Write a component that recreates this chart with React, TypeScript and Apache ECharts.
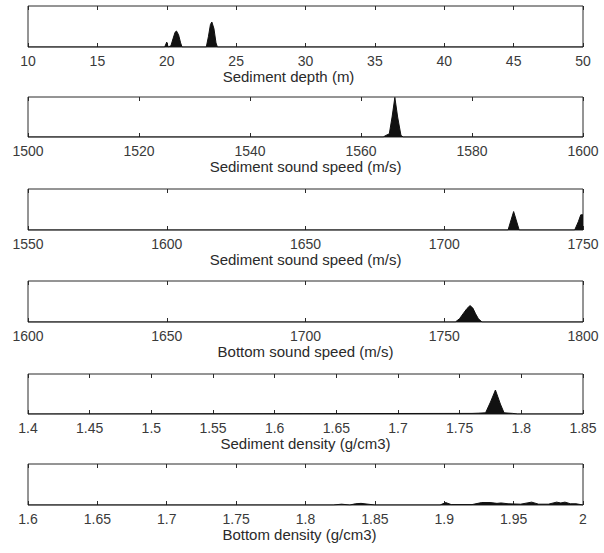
import React, { useEffect, useRef } from "react";
import * as echarts from "echarts";

// Panel 1: Sediment depth (m)
const depthX = [10, 19.85, 20.0, 20.1, 20.3, 20.45, 20.6, 20.7, 20.85, 21.0, 21.1, 22.85, 23.0, 23.15, 23.25, 23.4, 23.55, 23.65, 50];
const depthY = [0, 0, 0.12, 0, 0.03, 0.2, 0.36, 0.39, 0.3, 0.1, 0, 0, 0.25, 0.55, 0.61, 0.45, 0.1, 0, 0];

// Panel 2: Sediment sound speed (m/s), 1500-1600
const ssp1X = [1500, 1564.0, 1564.5, 1565.1, 1565.6, 1566.1, 1566.6, 1567.2, 1567.6, 1600];
const ssp1Y = [0, 0, 0.04, 0.08, 0.5, 0.99, 0.5, 0.04, 0, 0];

// Panel 3: Sediment sound speed (m/s), 1550-1750
const ssp2X = [1550, 1723.0, 1724.1, 1725.0, 1725.9, 1727.0, 1747.0, 1748.3, 1749.2, 1750];
const ssp2Y = [0, 0, 0.25, 0.45, 0.25, 0, 0, 0.2, 0.37, 0.37];

// Panel 4: Bottom sound speed (m/s)
const bspX = [1600, 1754.0, 1755.5, 1757.0, 1758.2, 1759.3, 1760.3, 1761.3, 1762.3, 1763.6, 1800];
const bspY = [0, 0, 0.08, 0.22, 0.33, 0.4, 0.34, 0.2, 0.08, 0, 0];

// Panel 5: Sediment density (g/cm3)
const sdenX = [1.4, 1.76, 1.765, 1.771, 1.775, 1.779, 1.783, 1.786, 1.793, 1.797, 1.85];
const sdenY = [0, 0.015, 0.02, 0.03, 0.3, 0.6, 0.25, 0.03, 0.015, 0, 0];

// Panel 6: Bottom density (g/cm3)
const bdenX = [1.6, 1.82, 1.826, 1.832, 1.836, 1.84, 1.845, 1.85, 1.897, 1.901, 1.905, 1.92, 1.927, 1.933, 1.938, 1.941, 1.946, 1.955, 1.963, 1.968, 1.975, 1.981, 1.984, 1.987, 1.991, 1.995, 2.0];
const bdenY = [0, 0, 0.02, 0, 0.03, 0.04, 0.02, 0, 0, 0.06, 0.01, 0.01, 0.06, 0.06, 0.04, 0.05, 0.03, 0.02, 0.07, 0.02, 0.02, 0.07, 0.05, 0.07, 0.03, 0.03, 0];

const titles = [
  "Sediment depth (m)",
  "Sediment sound speed (m/s)",
  "Sediment sound speed (m/s)",
  "Bottom sound speed (m/s)",
  "Sediment density (g/cm3)",
  "Bottom density (g/cm3)",
];
const mins = [10, 1500, 1550, 1600, 1.4, 1.6];
const maxs = [50, 1600, 1750, 1800, 1.85, 2.0];
const intervals = [5, 20, 50, 50, 0.05, 0.05];
const xs = [depthX, ssp1X, ssp2X, bspX, sdenX, bdenX];
const ys = [depthY, ssp1Y, ssp2Y, bspY, sdenY, bdenY];

const tops = [6, 97, 189, 281, 374, 464];
const bottoms = [47, 137, 230, 322, 414, 505];
const titleRightPad = [34, 0, 0, 0, 0, 12];

function fmt(v: number, interval: number) {
  if (interval < 1) {
    return String(parseFloat(v.toFixed(2)));
  }
  return String(Math.round(v));
}

export default function App() {
  const ref = useRef<HTMLDivElement>(null);
  useEffect(() => {
    if (!ref.current) return;
    const chart = echarts.init(ref.current, undefined, { renderer: "svg" });
    const font = "'Liberation Sans', Arial, Helvetica, sans-serif";
    const grid: any[] = [];
    const xAxis: any[] = [];
    const yAxis: any[] = [];
    const series: any[] = [];
    for (let i = 0; i < 6; i++) {
      grid.push({
        left: 28,
        width: 555,
        top: tops[i],
        height: bottoms[i] - tops[i],
        show: true,
        borderColor: "#2a2a2a",
        borderWidth: 1,
        backgroundColor: "#fff",
      });
      const iv = intervals[i];
      xAxis.push({
        type: "value",
        gridIndex: i,
        min: mins[i],
        max: maxs[i],
        interval: iv,
        position: "bottom",
        axisLine: { show: false },
        axisTick: { show: true, inside: true, length: 4, lineStyle: { color: "#2a2a2a" } },
        splitLine: { show: false },
        axisLabel: {
          show: true,
          margin: 7,
          fontSize: 14,
          fontFamily: font,
          color: "#3a3a3a",
          formatter: (v: number) => fmt(v, iv),
          showMinLabel: true,
          showMaxLabel: true,
          hideOverlap: false,
        },
        name: titles[i],
        nameLocation: "middle",
        nameGap: 22,
        nameTextStyle: {
          fontSize: 15,
          fontFamily: font,
          color: "#2a2a2a",
          padding: [0, titleRightPad[i], 0, 0],
        },
      });
      xAxis.push({
        type: "value",
        gridIndex: i,
        min: mins[i],
        max: maxs[i],
        interval: iv,
        position: "top",
        axisLine: { show: false },
        axisTick: { show: true, inside: true, length: 4, lineStyle: { color: "#2a2a2a" } },
        splitLine: { show: false },
        axisLabel: { show: false },
      });
      yAxis.push({
        type: "value",
        gridIndex: i,
        min: 0,
        max: 1,
        axisLine: { show: false },
        axisTick: { show: false },
        axisLabel: { show: false },
        splitLine: { show: false },
      });
      series.push({
        type: "line",
        xAxisIndex: i * 2,
        yAxisIndex: i,
        data: xs[i].map((x, k) => [x, ys[i][k]]),
        showSymbol: false,
        symbol: "none",
        lineStyle: { color: "#111", width: 1 },
        areaStyle: { color: "#111", opacity: 1 },
        silent: true,
        clip: true,
      });
    }
    chart.setOption({
      animation: false,
      backgroundColor: "#fff",
      grid,
      xAxis,
      yAxis,
      series,
    });
    return () => chart.dispose();
  }, []);
  return (
    <div
      ref={ref}
      style={{ position: "absolute", left: 0, top: 0, width: 604, height: 553 }}
    />
  );
}
